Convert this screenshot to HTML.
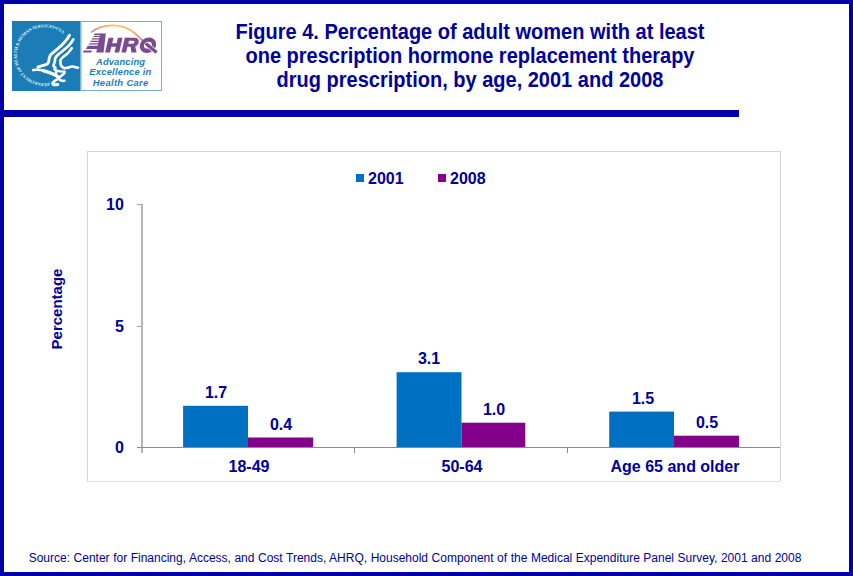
<!DOCTYPE html>
<html>
<head>
<meta charset="utf-8">
<title>Figure 4</title>
<style>
  html, body { margin: 0; padding: 0; }
  body {
    width: 853px; height: 576px; overflow: hidden; background: #ffffff;
    font-family: "Liberation Sans", sans-serif; color: #000099;
    position: relative;
  }
  .frame {
    position: absolute; left: 0; top: 0; width: 845px; height: 568px;
    border: 4px solid #0000a8;
  }
  .rule { position: absolute; left: 4px; top: 110px; width: 735px; height: 7px; background: #0000a8; }
  .title {
    position: absolute; left: 170px; top: 20px; width: 600px; text-align: center;
    font-weight: bold; font-size: 20px; line-height: 24px; color: #00009c; white-space: nowrap;
  }
  .title span { display: block; transform: scaleY(1.075); transform-origin: 50% 19px; }
  .chartbox { position: absolute; left: 87px; top: 151px; width: 692px; height: 329px; border: 1px solid #d5d5d8; border-bottom-color: #e0e0e3; }
  .abs { position: absolute; }
  .lbl { position: absolute; margin-top: 1px; font-weight: bold; font-size: 16px; line-height: 16px; color: #000099; white-space: nowrap; }
  .ctr { transform: translateX(-50%); }
  .bar1 { position: absolute; background: #0071c2; }
  .bar2 { position: absolute; background: #84008a; }
  .axis { position: absolute; background: #8a8a94; }
  .source { position: absolute; left: 28.7px; top: 550px; font-size: 12px; word-spacing: 0.2px; line-height: 16px; color: #000099; white-space: nowrap; }
</style>
</head>
<body>
<div class="frame"></div>
<div class="rule"></div>

<!-- logo -->
<div class="abs" id="logo" style="left:12px; top:21px; width:150px; height:70px;">
<svg width="150" height="70" viewBox="0 0 150 70">
  <defs>
    <linearGradient id="arcg" gradientUnits="userSpaceOnUse" x1="79" y1="0" x2="134" y2="0">
      <stop offset="0" stop-color="#c08ab8"/>
      <stop offset="0.18" stop-color="#eda27a"/>
      <stop offset="0.45" stop-color="#f5c860"/>
      <stop offset="0.75" stop-color="#f2b26a"/>
      <stop offset="0.92" stop-color="#e6808a"/>
      <stop offset="1" stop-color="#b0609a"/>
    </linearGradient>
    <path id="circ" d="M 37.5,61.8 A 28,28 0 1 1 51.8,13.6"/>
  </defs>
  <rect x="0" y="0" width="68.5" height="70" fill="#1b7cb6"/>
  <rect x="69" y="0.5" width="80.5" height="69" fill="#ffffff" stroke="#74afd6" stroke-width="1"/>
  <!-- circular text -->
  <text font-family="Liberation Serif, serif" font-weight="bold" font-size="4.4" fill="#e4f0f8"><textPath href="#circ" textLength="112" lengthAdjust="spacing">DEPARTMENT OF HEALTH &amp; HUMAN SERVICES•USA</textPath></text>
  <!-- eagle -->
  <g fill="none" stroke="#ffffff" stroke-linecap="round" stroke-linejoin="round">
    <path stroke-width="2.9" d="M57.5,14.2 C57.0,15.0 55.9,17.2 54.5,18.9 C53.1,20.6 51.2,22.8 49.3,24.6 C47.4,26.4 44.8,28.3 43.1,29.8 C41.4,31.3 39.9,32.4 38.9,33.5 C37.9,34.6 37.8,35.5 37.4,36.6 C37.0,37.7 37.1,39.2 36.8,40.3 C36.4,41.3 36.2,42.2 35.3,42.9 C34.4,43.6 33.2,43.9 31.6,44.4 C30.0,44.9 26.8,45.7 25.9,46.0"/>
    <path stroke-width="2.7" d="M61.3,18.4 C60.7,19.3 59.4,21.8 57.7,23.6 C56.1,25.4 53.4,27.6 51.4,29.3 C49.4,31.0 47.1,32.7 45.7,34.0 C44.4,35.3 43.8,36.1 43.3,37.1 C42.8,38.1 43.1,39.3 42.9,40.3 C42.7,41.3 42.2,42.1 42.0,42.9 C41.8,43.7 41.3,44.3 41.5,44.9 C41.7,45.5 43.1,46.1 43.3,46.7 C43.5,47.3 42.4,47.9 42.6,48.4 C42.8,48.9 44.4,49.2 44.6,49.8 C44.9,50.3 44.2,51.4 44.1,51.7"/>
    <path stroke-width="2.6" d="M59.8,27.2 C59.1,28.1 57.2,30.8 55.6,32.4 C54.0,34.0 51.6,35.5 50.4,36.6 C49.2,37.7 48.8,38.2 48.5,39.2 C48.2,40.2 48.4,41.3 48.5,42.3 C48.6,43.2 48.7,44.1 49.3,44.9 C49.9,45.7 50.8,46.7 51.9,47.0 C53.0,47.3 54.5,46.9 55.6,46.7 C56.7,46.5 57.7,45.9 58.7,45.7 C59.7,45.5 60.6,45.5 61.8,45.7 C63.0,45.9 65.3,46.5 66.0,46.7"/>
    <path stroke-width="2.6" d="M21.2,49.1 C21.9,49.0 23.7,48.7 25.4,48.8 C27.1,48.9 29.5,49.3 31.6,49.8 C33.7,50.3 36.0,51.0 37.9,51.7 C39.8,52.4 41.7,53.3 43.1,54.0 C44.5,54.7 45.8,55.2 46.2,55.9 C46.6,56.6 46.3,57.3 45.7,58.0 C45.1,58.7 43.4,59.3 42.6,60.0 C41.8,60.7 40.9,61.5 40.8,62.1 C40.7,62.7 41.2,63.5 42.0,63.7 C42.8,63.9 45.1,63.5 45.7,63.4"/>
    <path stroke-width="3.3" d="M31.6,49.8 C32.6,50.1 36.0,51.0 37.9,51.7 C39.8,52.4 41.7,53.3 43.1,54.0 C44.5,54.7 45.7,55.6 46.2,55.9"/>
    <path stroke-width="3.0" d="M40.8,62.1 C41.0,62.4 41.2,63.5 42.0,63.7 C42.8,63.9 45.1,63.5 45.7,63.4"/>
    <path stroke-width="2.5" d="M52.5,50.7 C52.4,51.0 52.4,52.1 51.9,52.8 C51.4,53.4 50.1,54.1 49.3,54.8 C48.5,55.5 47.5,56.2 47.2,56.9 C47.0,57.6 47.3,58.3 47.8,58.8 C48.3,59.3 49.6,59.6 50.4,59.8 C51.2,60.0 52.1,59.8 52.5,59.8"/>
    <path stroke-width="2.3" d="M44.6,49.8 C45.2,49.9 46.7,50.2 48.0,50.4 C49.3,50.5 51.8,50.7 52.5,50.7"/>
  </g>
  <!-- AHRQ -->
  <path d="M79.2,11.4 C85,6.5 93,4.3 100.8,4.3 C110,4.3 118,8 123,12.5 C127,16 130,19 133.5,22.4" fill="none" stroke="url(#arcg)" stroke-width="1.7"/>
  <g fill="#7a4b8f">
    <polygon points="82.8,12.4 88.7,12.4 88.4,13.9 81.9,13.9"/>
    <polygon points="81.8,14.8 87.7,14.8 87.4,16.1 81.0,16.1"/>
    <polygon points="80.3,17.3 87.2,17.3 86.9,18.6 79.5,18.6"/>
    <polygon points="78.8,19.8 86.7,19.8 86.5,21.1 78.1,21.1"/>
    <polygon points="77.4,22.2 86.2,22.2 86.0,23.5 76.6,23.5"/>
    <polygon points="75.9,24.7 91.6,24.7 90.9,28.1 73.8,28.1"/>
    <polygon points="71.9,29.6 79.8,29.6 79.4,31.6 70.8,31.6"/>
    <polygon points="88.2,12.4 93.8,12.4 91.6,31.6 84.2,31.6"/>
    <polygon points="96.6,16.8 101.5,16.8 98.0,31.6 93.1,31.6"/>
    <polygon points="105.9,16.8 110.5,16.8 107.2,31.6 102.5,31.6"/>
    <polygon points="99.5,22.2 107.4,22.2 106.6,25.7 98.7,25.7"/>
    <polygon points="112.8,16.8 117.4,16.8 114.1,31.6 109.4,31.6"/>
    <polygon points="118.4,24.7 123.1,24.7 124.6,31.6 119.4,31.6"/>
    <path fill-rule="evenodd" d="M114.3,16.8 L122.7,16.8 C125.6,16.8 127.1,18.6 126.8,20.8 C126.5,23.7 124.6,25.7 121.7,25.7 L114.3,25.7 Z M116.8,19.8 L121.2,19.8 C122.4,19.8 122.6,20.6 122.4,21.3 C122.2,22.2 121.7,22.7 120.5,22.7 L116.2,22.7 Z"/>
    <path fill-rule="evenodd" transform="translate(135.9,24.2) skewX(-8)" d="M-8.2,0 A8.2,7.8 0 1 1 8.2,0 A8.2,7.8 0 1 1 -8.2,0 Z M-3.9,0 A3.9,3.4 0 1 0 3.9,0 A3.9,3.4 0 1 0 -3.9,0 Z"/>
    <line x1="133.8" y1="22.5" x2="144.6" y2="31.4" stroke="#ffffff" stroke-width="4.6"/><line x1="133.8" y1="22.5" x2="144.6" y2="31.4" stroke="#7a4b8f" stroke-width="3.3"/>
  </g>
  <g font-family="Liberation Sans, sans-serif" font-weight="bold" font-style="italic" font-size="9.4" fill="#1f7eb5" text-anchor="middle">
    <text x="108.5" y="44.4" textLength="49" lengthAdjust="spacing">Advancing</text>
    <text x="108.3" y="54.4" textLength="62" lengthAdjust="spacing">Excellence in</text>
    <text x="108.5" y="64.7" textLength="55.5" lengthAdjust="spacing">Health Care</text>
  </g>
</svg>
</div>

<div class="title"><span>Figure 4. Percentage of adult women with at least</span><span>one prescription hormone replacement therapy</span><span>drug prescription, by age, 2001 and 2008</span></div>

<div class="chartbox"></div>

<!-- legend -->
<div class="bar1" style="left:356px; top:174px; width:8px; height:8px;"></div>
<div class="lbl" style="left:368px; top:170px;">2001</div>
<div class="bar2" style="left:438px; top:174px; width:8px; height:8px;"></div>
<div class="lbl" style="left:450px; top:170px;">2008</div>

<!-- bars -->
<svg class="abs" style="left:0; top:0;" width="853" height="576" viewBox="0 0 853 576">
  <rect x="183.1" y="405.8" width="64.9" height="41.6" fill="#0071c2"/>
  <rect x="248" y="437.5" width="65.2" height="9.9" fill="#84008a"/>
  <rect x="396.6" y="372.2" width="64.9" height="75.2" fill="#0071c2"/>
  <rect x="461.5" y="422.7" width="63.8" height="24.7" fill="#84008a"/>
  <rect x="609.2" y="411.6" width="64.8" height="35.8" fill="#0071c2"/>
  <rect x="674" y="435.7" width="65" height="11.7" fill="#84008a"/>
</svg>

<!-- y axis -->
<div class="axis" style="left:141px; top:204px; width:2px; height:249px; background:#b4b4be;"></div>
<div class="axis" style="left:137px; top:204px; width:4px; height:1px; background:#9c9ca6;"></div>
<div class="axis" style="left:137px; top:326px; width:4px; height:1px; background:#9c9ca6;"></div>
<div class="axis" style="left:137px; top:447px; width:643px; height:1px;"></div>
<!-- category ticks -->
<div class="axis" style="left:354px; top:447px; width:1px; height:6px;"></div>
<div class="axis" style="left:567px; top:447px; width:1px; height:6px;"></div>

<!-- y labels -->
<div class="lbl" style="left:106px; top:196px;">10</div>
<div class="lbl" style="left:115px; top:318px;">5</div>
<div class="lbl" style="left:115px; top:439px;">0</div>

<div class="lbl" id="ylab" style="left:57px; top:309px; margin-top:0; font-size:15px; transform: translate(-50%,-50%) rotate(-90deg);">Percentage</div>

<!-- value labels -->
<div class="lbl ctr" style="left:216px; top:384px;">1.7</div>
<div class="lbl ctr" style="left:281px; top:416px;">0.4</div>
<div class="lbl ctr" style="left:429px; top:350px;">3.1</div>
<div class="lbl ctr" style="left:494px; top:401px;">1.0</div>
<div class="lbl ctr" style="left:643px; top:390px;">1.5</div>
<div class="lbl ctr" style="left:707px; top:414px;">0.5</div>

<!-- category labels -->
<div class="lbl ctr" style="left:249px; top:458px;">18-49</div>
<div class="lbl ctr" style="left:462px; top:458px;">50-64</div>
<div class="lbl ctr" style="left:675px; top:458px;">Age 65 and older</div>

<div class="source" id="src">Source: Center for Financing, Access, and Cost Trends, AHRQ, Household Component of the Medical Expenditure Panel Survey, 2001 and 2008</div>
</body>
</html>
